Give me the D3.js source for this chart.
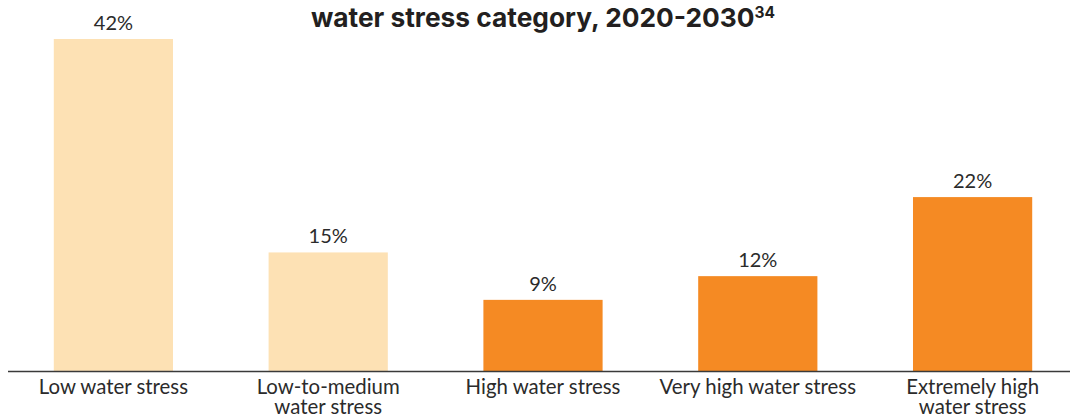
<!DOCTYPE html>
<html><head><meta charset="utf-8">
<script src="https://cdn.jsdelivr.net/npm/d3@7"></script>
<style>body{margin:0;background:#fff;}svg{display:block;}</style>
</head><body>
<svg id="c" width="1070" height="416"></svg>
<script>
const categories = [["Low water stress"], ["Low-to-medium", "water stress"], ["High water stress"], ["Very high water stress"], ["Extremely high", "water stress"]];
const values = [42, 15, 9, 12, 22];
const colors = ["#FDE1B4", "#FDE1B4", "#F58A23", "#F58A23", "#F58A23"];

const svg = d3.select("#c");
const x = d3.scaleBand().domain(d3.range(values.length)).range([6, 1080]).paddingInner(0.445).paddingOuter(0.2225);
const y = d3.scaleLinear().domain([0, 42]).range([371, 39]);

svg.append("text").attr("x", 543).attr("y", 27).attr("text-anchor", "middle")
  .style("font-family", "Inter, 'DejaVu Sans', sans-serif").style("font-weight", 700).style("font-size", "26.3px").attr("fill", "#231f20")
  .text("water stress category, 2020-2030")
  .append("tspan").attr("dy", -9).style("font-size", "15.5px").text("34");

svg.selectAll("rect.bar").data(values).join("rect").attr("class", "bar")
  .attr("x", (d, i) => x(i)).attr("width", x.bandwidth())
  .attr("y", d => y(d)).attr("height", d => y(0) - y(d))
  .attr("fill", (d, i) => colors[i]);

svg.selectAll("text.val").data(values).join("text").attr("class", "val")
  .attr("x", (d, i) => x(i) + x.bandwidth() / 2).attr("y", d => y(d) - 9)
  .attr("text-anchor", "middle").style("font-family", "Lato, sans-serif").style("font-size", "20px").attr("fill", "#2b2b2b")
  .text(d => d + "%");

svg.append("line").attr("x1", 8).attr("x2", 1070).attr("y1", 371.5).attr("y2", 371.5).attr("stroke", "#3a3a3a").attr("stroke-width", 1.3);

const lab = svg.selectAll("text.cat").data(categories).join("text").attr("class", "cat")
  .attr("text-anchor", "middle").style("font-family", "Lato, sans-serif").style("font-size", "20.4px").attr("fill", "#2b2b2b");
lab.each(function (lines, i) {
  d3.select(this).selectAll("tspan").data(lines).join("tspan")
    .attr("x", x(i) + x.bandwidth() / 2).attr("y", (l, j) => 394 + j * 20).text(l => l);
});
</script>
</body></html>
